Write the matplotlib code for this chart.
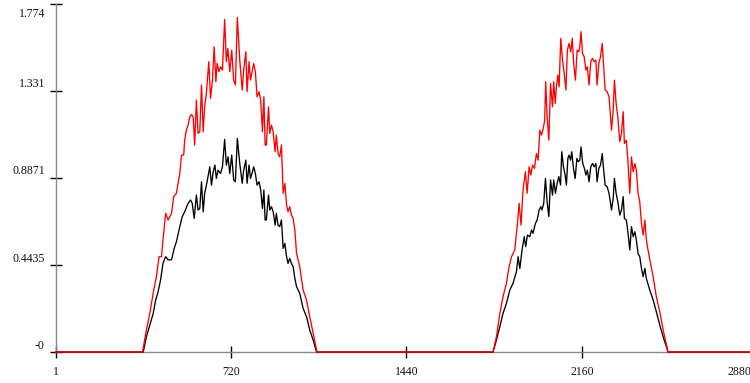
import matplotlib
matplotlib.use("Agg")
import matplotlib.pyplot as plt
from matplotlib.transforms import ScaledTranslation

# ---------------- data ----------------
x_range = [1, 2880]
x_ticks = [1, 720, 1440, 2160, 2880]
y_ticks = [0, 0.4435, 0.8871, 1.331, 1.774]
y_tick_labels = ["-0", "0.4435", "0.8871", "1.331", "1.774"]

red_day1_x = [357, 373, 387, 403, 414, 425, 435, 441, 452, 462, 476, 485, 496, 510, 517, 526,
              530, 537, 544, 551, 558, 565, 571, 578, 585, 592, 599, 606, 612, 619, 629, 636,
              644, 651, 658, 663, 671, 677, 685, 694, 701, 707, 715, 723, 731, 738, 746, 756,
              766, 772, 781, 786, 794, 800, 808, 813, 820, 827, 835, 842, 849, 855, 860, 865,
              874, 879, 886, 893, 901, 906, 913, 920, 927, 934, 941, 948, 954, 961, 968, 975,
              982, 989, 1002, 1016, 1030, 1043, 1057, 1073]
red_day1_y = [0.0, 0.112, 0.197, 0.316, 0.384, 0.486, 0.486, 0.571, 0.707, 0.673, 0.707, 0.792,
              0.809, 0.911, 1.004, 1.004, 1.080, 1.131, 1.157, 1.199, 1.211, 1.199, 1.055, 1.284,
              1.114, 1.123, 1.361, 1.123, 1.250, 1.318, 1.480, 1.293, 1.386, 1.556, 1.378, 1.471,
              1.429, 1.454, 1.437, 1.695, 1.480, 1.548, 1.429, 1.539, 1.386, 1.361, 1.706, 1.488,
              1.335, 1.437, 1.531, 1.327, 1.480, 1.386, 1.437, 1.471, 1.429, 1.301, 1.327, 1.284,
              1.123, 1.301, 1.055, 1.055, 1.250, 1.114, 1.157, 1.123, 1.021, 1.106, 1.012, 0.995,
              1.055, 0.809, 0.860, 0.749, 0.715, 0.741, 0.698, 0.681, 0.622, 0.503, 0.435, 0.316,
              0.265, 0.180, 0.095, 0.0]

black_day1_x = [360, 373, 387, 401, 411, 421, 431, 441, 452, 462, 476, 487, 496, 510, 520, 530,
                544, 554, 561, 569, 578, 585, 592, 599, 606, 612, 622, 633, 640, 647, 654, 660,
                667, 677, 685, 694, 701, 708, 715, 723, 731, 738, 746, 756, 766, 772, 781, 786,
                794, 800, 808, 813, 820, 827, 835, 842, 849, 855, 860, 865, 874, 879, 886, 893,
                901, 906, 913, 920, 927, 934, 941, 948, 954, 961, 968, 975, 982, 989, 1002, 1016,
                1030, 1043, 1057, 1071]
black_day1_y = [0.0, 0.078, 0.137, 0.197, 0.265, 0.307, 0.367, 0.452, 0.486, 0.470, 0.470, 0.528,
                0.562, 0.639, 0.690, 0.715, 0.758, 0.775, 0.758, 0.681, 0.800, 0.724, 0.732, 0.868,
                0.715, 0.809, 0.868, 0.944, 0.851, 0.919, 0.953, 0.885, 0.927, 0.910, 0.944, 1.084,
                0.953, 0.995, 0.910, 1.004, 0.877, 0.868, 1.089, 0.961, 0.860, 0.927, 0.978, 0.860,
                0.953, 0.885, 0.919, 0.944, 0.910, 0.851, 0.868, 0.826, 0.732, 0.826, 0.673, 0.673,
                0.800, 0.724, 0.741, 0.715, 0.647, 0.707, 0.647, 0.639, 0.673, 0.528, 0.554, 0.486,
                0.452, 0.477, 0.452, 0.435, 0.375, 0.333, 0.299, 0.222, 0.180, 0.112, 0.061, 0.0]

red_day2_x = [1795, 1809, 1823, 1836, 1850, 1861, 1871, 1884, 1894, 1902, 1910, 1918, 1928, 1935,
              1943, 1950, 1957, 1965, 1973, 1980, 1987, 1994, 2001, 2007, 2011, 2017, 2024, 2031,
              2039, 2044, 2050, 2055, 2061, 2066, 2073, 2080, 2087, 2094, 2100, 2107, 2114, 2120,
              2126, 2133, 2140, 2147, 2151, 2156, 2162, 2169, 2176, 2182, 2189, 2196, 2203, 2210,
              2217, 2222, 2229, 2236, 2243, 2249, 2255, 2263, 2271, 2281, 2288, 2293, 2300, 2307,
              2315, 2322, 2329, 2334, 2342, 2349, 2356, 2363, 2370, 2377, 2383, 2390, 2397, 2404,
              2411, 2418, 2424, 2431, 2441, 2452, 2465, 2479, 2493, 2513]
red_day2_y = [0.0, 0.078, 0.197, 0.282, 0.350, 0.435, 0.486, 0.520, 0.639, 0.758, 0.647, 0.826,
              0.919, 0.809, 0.944, 0.902, 0.953, 0.936, 1.012, 0.978, 1.131, 1.106, 1.140, 1.182,
              1.378, 1.199, 1.080, 1.369, 1.250, 1.378, 1.267, 1.352, 1.412, 1.352, 1.599, 1.488,
              1.420, 1.335, 1.539, 1.573, 1.531, 1.599, 1.471, 1.386, 1.539, 1.531, 1.556, 1.633,
              1.522, 1.505, 1.437, 1.454, 1.361, 1.480, 1.497, 1.480, 1.488, 1.361, 1.471, 1.505,
              1.573, 1.454, 1.335, 1.327, 1.301, 1.131, 1.233, 1.386, 1.267, 1.199, 1.072, 1.114,
              1.225, 1.063, 1.080, 0.961, 0.809, 0.995, 0.919, 0.961, 0.927, 0.809, 0.766, 0.656,
              0.596, 0.673, 0.571, 0.520, 0.452, 0.384, 0.282, 0.205, 0.112, 0.0]

black_day2_x = [1795, 1809, 1823, 1836, 1850, 1864, 1877, 1891, 1898, 1905, 1914, 1923, 1929, 1936,
                1946, 1953, 1959, 1969, 1976, 1984, 1991, 1996, 2003, 2010, 2017, 2024, 2031, 2039,
                2044, 2051, 2058, 2065, 2072, 2077, 2084, 2091, 2096, 2102, 2107, 2113, 2118, 2125,
                2132, 2139, 2145, 2151, 2156, 2163, 2170, 2176, 2182, 2189, 2196, 2203, 2210, 2217,
                2222, 2229, 2236, 2243, 2249, 2255, 2263, 2271, 2281, 2288, 2293, 2300, 2307, 2315,
                2322, 2329, 2334, 2342, 2349, 2356, 2363, 2370, 2377, 2383, 2390, 2397, 2404, 2411,
                2418, 2424, 2438, 2452, 2465, 2479, 2493, 2513]
black_day2_y = [0.0, 0.061, 0.129, 0.197, 0.248, 0.316, 0.350, 0.409, 0.486, 0.426, 0.520, 0.588,
                0.537, 0.596, 0.588, 0.622, 0.605, 0.656, 0.673, 0.724, 0.741, 0.724, 0.758, 0.885,
                0.766, 0.690, 0.877, 0.800, 0.877, 0.809, 0.860, 0.894, 0.851, 1.021, 0.944, 0.902,
                0.851, 0.987, 1.004, 0.978, 1.021, 0.936, 0.885, 0.987, 0.970, 0.978, 1.046, 0.961,
                0.936, 0.902, 0.927, 0.868, 0.944, 0.961, 0.944, 0.961, 0.868, 0.936, 0.953, 1.012,
                0.927, 0.851, 0.843, 0.809, 0.724, 0.783, 0.885, 0.809, 0.766, 0.698, 0.724, 0.792,
                0.681, 0.673, 0.605, 0.520, 0.639, 0.588, 0.613, 0.571, 0.503, 0.486, 0.426, 0.384,
                0.426, 0.375, 0.316, 0.265, 0.205, 0.137, 0.078, 0.0]

red_x = [x_range[0]] + red_day1_x + red_day2_x + [x_range[1]]
red_y = [0.0] + red_day1_y + red_day2_y + [0.0]
black_x = [x_range[0]] + black_day1_x + black_day2_x + [x_range[1]]
black_y = [0.0] + black_day1_y + black_day2_y + [0.0]

# ---------------- plot ----------------
plt.rcParams['font.family'] = ['Liberation Serif', 'DejaVu Serif']
fig = plt.figure(figsize=(7.5, 3.83), dpi=100)
ax = fig.add_axes([0.0743, 0.0809, 0.9357, 0.9086])

ax.plot(black_x, black_y, color='black', lw=0.95, clip_on=False, zorder=3)
ax.plot(red_x, red_y, color='#ff0000', lw=0.95, clip_on=False, zorder=4)

ax.set_xlim(x_range)
ax.set_ylim(0, 1.774)
ax.set_xticks(x_ticks)
ax.set_xticklabels([str(t) for t in x_ticks])
ax.set_yticks(y_ticks)
ax.set_yticklabels(y_tick_labels)

for s in ['top', 'right']:
    ax.spines[s].set_visible(False)
for s in ['left', 'bottom']:
    ax.spines[s].set_color('#888888')
    ax.spines[s].set_linewidth(1.0)

ax.tick_params(axis='both', direction='inout', length=8.6, width=1.0, color='black',
               labelsize=8.5, labelcolor='#111111')
ax.tick_params(axis='y', pad=3.5)
ax.tick_params(axis='x', pad=6)

# y labels sit slightly above their ticks; top one sits below (offsets in pixels at 100 dpi)
for i, lab in enumerate(ax.get_yticklabels()):
    dy_px = -8 if i == len(y_ticks) - 1 else 8
    lab.set_transform(lab.get_transform() + ScaledTranslation(0, dy_px / 100, fig.dpi_scale_trans))

# last x label is pulled inward to stay mostly inside the canvas
xlabs = ax.get_xticklabels()
xlabs[-1].set_transform(xlabs[-1].get_transform() + ScaledTranslation(-18 / 100, 0, fig.dpi_scale_trans))

fig.savefig("out.png", dpi=100)
